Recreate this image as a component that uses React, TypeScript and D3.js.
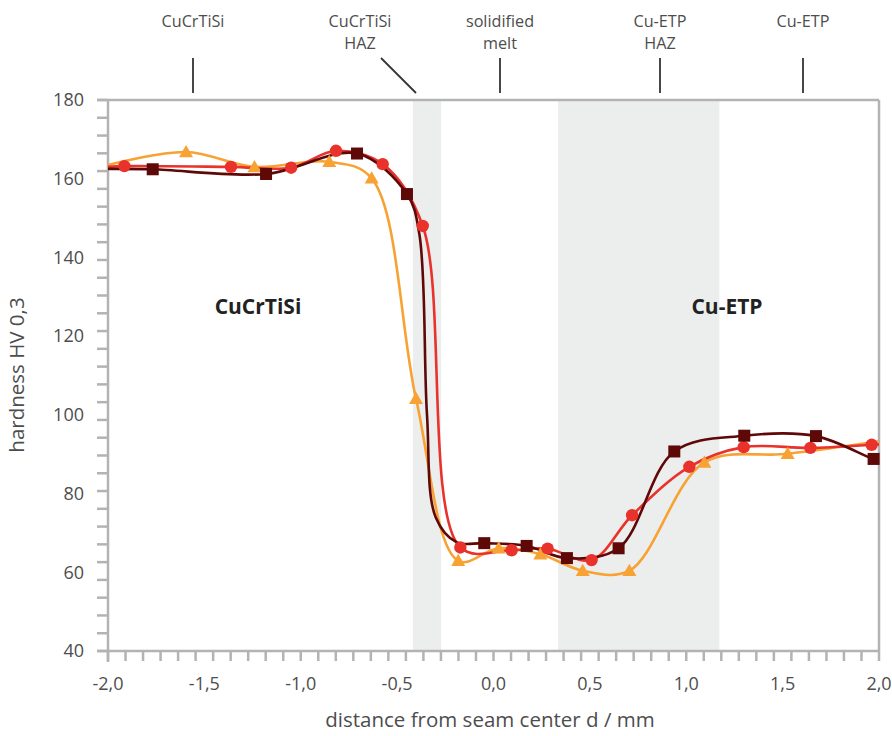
import React from "react";
import * as d3 from "d3";

// ---- data ----
const xTickValues = [-2, -1.5, -1, -0.5, 0, 0.5, 1, 1.5, 2];
const xTickLabels = ["-2,0", "-1,5", "-1,0", "-0,5", "0,0", "0,5", "1,0", "1,5", "2,0"];
const yTickValues = [40, 60, 80, 100, 120, 140, 160, 180];

// dark red (squares)
const darkRedX = [-1.768, -1.18, -0.708, -0.449, -0.048, 0.172, 0.381, 0.649, 0.938, 1.301, 1.673, 1.972];
const darkRedY = [162.4, 161.2, 166.4, 156.1, 67.4, 66.7, 63.6, 66.1, 90.7, 94.7, 94.6, 88.8];
// unmarked line vertices
const darkRedLineOnly: [number, number][] = [[-2, 162.5], [-0.385, 146], [-0.345, 100], [-0.3, 74], [-0.19, 67.6], [2.0, 88.6]];

// red (circles)
const redX = [-1.915, -1.362, -1.05, -0.817, -0.575, -0.367, -0.172, 0.094, 0.281, 0.509, 0.719, 1.016, 1.298, 1.644, 1.962];
const redY = [163.2, 163.0, 162.8, 167.1, 163.7, 148.0, 66.3, 65.6, 66.0, 63.1, 74.5, 86.8, 91.8, 91.6, 92.4];
const redLineOnly: [number, number][] = [[-2, 163.0], [2, 92.5]];

// orange (triangles)
const orangeX = [-1.595, -1.24, -0.852, -0.632, -0.402, -0.183, 0.027, 0.243, 0.463, 0.705, 1.094, 1.526];
const orangeY = [166.8, 163.0, 164.3, 160.1, 104.1, 62.9, 66.1, 64.6, 60.4, 60.4, 87.9, 90.1];
const orangeLineOnly: [number, number][] = [[-2, 163.5], [2, 93.3]];

// shaded zones (distance, mm)
const bandStarts = [-0.418, 0.335];
const bandEnds = [-0.272, 1.172];

// zone annotations above the plot
const zoneLabels = [["CuCrTiSi"], ["CuCrTiSi", "HAZ"], ["solidified", "melt"], ["Cu-ETP", "HAZ"], ["Cu-ETP"]];

const W = 892;
const H = 736;
const left = 108;
const right = 879;
const top = 100;
const bottom = 651;

const COL_DARK = "#5f0808";
const COL_RED = "#e8322b";
const COL_ORANGE = "#f7a233";
const AXIS = "#b3b3b3";
const TEXT = "#4d4d4d";
const FONT = "'Open Sans', Lato, sans-serif";

export default function App() {
  const x = d3.scaleLinear().domain([-2, 2]).range([left, right]);
  const y = d3.scaleLinear().domain([40, 180]).range([bottom, top]);

  const line = d3
    .line<[number, number]>()
    .x((d) => x(d[0]))
    .y((d) => y(d[1]))
    .curve(d3.curveCatmullRom.alpha(0.5));

  const merge = (xs: number[], ys: number[], extra: [number, number][]) =>
    [...xs.map((v, i) => [v, ys[i]] as [number, number]), ...extra].sort((a, b) => a[0] - b[0]);

  const darkPts = merge(darkRedX, darkRedY, darkRedLineOnly);
  const redPts = merge(redX, redY, redLineOnly);
  const orangePts = merge(orangeX, orangeY, orangeLineOnly);

  const yMinor = d3.range(0, 32).map((i) => top + (i * (bottom - top)) / 31);
  const xMinor = d3.range(0, 45).map((i) => left + (i * (right - left)) / 44);

  const annX = [193, 360, 500, 660, 803];

  const tri = (cx: number, cy: number) => {
    const s = 7;
    return `M${cx},${cy - s}L${cx + s},${cy + s * 0.75}L${cx - s},${cy + s * 0.75}Z`;
  };

  return (
    <svg
      width={W}
      height={H}
      style={{ position: "absolute", left: 0, top: 0, display: "block", background: "#fff" }}
      fontFamily={FONT}
    >
      {/* bands */}
      {bandStarts.map((s, i) => (
        <rect key={"b" + i} x={x(s)} y={top} width={x(bandEnds[i]) - x(s)} height={bottom - top} fill="#eceeed" />
      ))}

      {/* frame */}
      <line x1={97} x2={right} y1={top} y2={top} stroke={AXIS} strokeWidth={2.5} />
      <line x1={right} x2={right} y1={top} y2={bottom} stroke={AXIS} strokeWidth={2.5} />
      <line x1={97} x2={right} y1={bottom} y2={bottom} stroke={AXIS} strokeWidth={2.5} />
      <line x1={left} x2={left} y1={top} y2={bottom + 11} stroke={AXIS} strokeWidth={2.5} />
      {yMinor.map((yy, i) => (
        <line key={"ym" + i} x1={97} x2={left} y1={yy} y2={yy} stroke={AXIS} strokeWidth={2.5} />
      ))}
      {xMinor.map((xx, i) => (
        <line key={"xm" + i} x1={xx} x2={xx} y1={bottom} y2={bottom + 10} stroke={AXIS} strokeWidth={2.5} />
      ))}

      {/* tick labels */}
      {yTickValues.map((v) => (
        <text key={"yt" + v} x={84} y={y(v)} dy="0.35em" textAnchor="end" fontSize={18} fill={TEXT}>
          {v}
        </text>
      ))}
      {xTickValues.map((v, i) => (
        <text key={"xt" + v} x={x(v)} y={690} textAnchor="middle" fontSize={18} fill={TEXT}>
          {xTickLabels[i]}
        </text>
      ))}

      {/* axis titles */}
      <text x={490} y={727} textAnchor="middle" fontSize={20.5} fill={TEXT}>
        distance from seam center d / mm
      </text>
      <text transform="translate(24,375) rotate(-90)" textAnchor="middle" fontSize={20.5} fill={TEXT}>
        hardness HV 0,3
      </text>

      {/* zone annotations */}
      {zoneLabels.map((lines, i) =>
        lines.map((t, j) => (
          <text key={"z" + i + j} x={annX[i]} y={26.5 + j * 22} textAnchor="middle" fontSize={16.2} fill={TEXT}>
            {t}
          </text>
        ))
      )}
      {[0, 2, 3, 4].map((i) => (
        <line key={"zl" + i} x1={annX[i]} x2={annX[i]} y1={58} y2={93} stroke="#333" strokeWidth={1.8} />
      ))}
      <line x1={381} x2={416} y1={58} y2={93} stroke="#333" strokeWidth={1.8} />

      {/* inner labels */}
      <text x={258} y={314} textAnchor="middle" fontSize={21} fontWeight="bold" fill="#222">
        CuCrTiSi
      </text>
      <text x={727} y={314} textAnchor="middle" fontSize={21} fontWeight="bold" fill="#222">
        Cu-ETP
      </text>

      {/* lines */}
      <path d={line(orangePts) || ""} fill="none" stroke={COL_ORANGE} strokeWidth={2.6} />
      <path d={line(redPts) || ""} fill="none" stroke={COL_RED} strokeWidth={2.6} />
      <path d={line(darkPts) || ""} fill="none" stroke={COL_DARK} strokeWidth={2.6} />

      {/* markers */}
      {orangeX.map((v, i) => (
        <path key={"om" + i} d={tri(x(v), y(orangeY[i]))} fill={COL_ORANGE} />
      ))}
      {redX.map((v, i) => (
        <circle key={"rm" + i} cx={x(v)} cy={y(redY[i])} r={6.2} fill={COL_RED} />
      ))}
      {darkRedX.map((v, i) => (
        <rect key={"dm" + i} x={x(v) - 6} y={y(darkRedY[i]) - 6} width={12} height={12} fill={COL_DARK} />
      ))}
    </svg>
  );
}
